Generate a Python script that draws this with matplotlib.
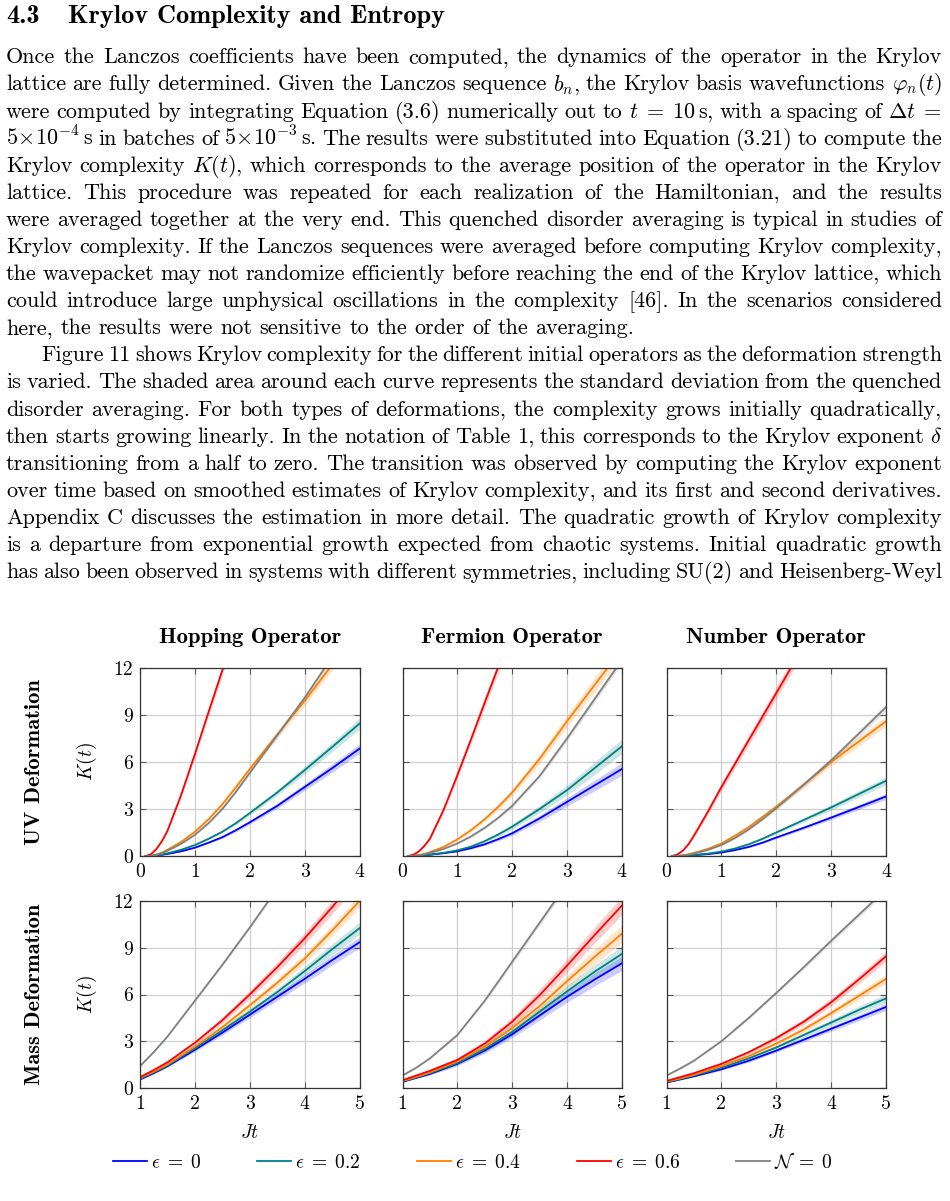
import matplotlib
matplotlib.use('Agg')
import matplotlib.pyplot as plt
from matplotlib.lines import Line2D
import numpy as np

plt.rcParams['mathtext.fontset'] = 'cm'
plt.rcParams['font.family'] = 'cmr10'
plt.rcParams['axes.formatter.use_mathtext'] = True

W, H = 950, 1201

# ---- page text ----
HEAD_NUM = '4.3'
HEAD_TXT = 'Krylov Complexity and Entropy'

PARA1 = [
    'Once the Lanczos coefficients have been computed, the dynamics of the operator in the Krylov',
    r'lattice are fully determined. Given the Lanczos sequence $b_n$, the Krylov basis wavefunctions $\varphi_n(t)$',
    r'were computed by integrating Equation (3.6) numerically out to $t\;=\;10\,\mathrm{s}$, with a spacing of $\Delta{t}\;=$',
    r'$5\!\times\!10^{-4}\,\mathrm{s}$ in batches of $5\!\times\!10^{-3}\,\mathrm{s}$. The results were substituted into Equation (3.21) to compute the',
    r'Krylov complexity $K(t)$, which corresponds to the average position of the operator in the Krylov',
    'lattice. This procedure was repeated for each realization of the Hamiltonian, and the results',
    'were averaged together at the very end. This quenched disorder averaging is typical in studies of',
    'Krylov complexity. If the Lanczos sequences were averaged before computing Krylov complexity,',
    'the wavepacket may not randomize efficiently before reaching the end of the Krylov lattice, which',
    'could introduce large unphysical oscillations in the complexity [46]. In the scenarios considered',
    'here, the results were not sensitive to the order of the averaging.',
]
PARA2 = [
    'Figure 11 shows Krylov complexity for the different initial operators as the deformation strength',
    'is varied. The shaded area around each curve represents the standard deviation from the quenched',
    'disorder averaging. For both types of deformations, the complexity grows initially quadratically,',
    r'then starts growing linearly. In the notation of Table 1, this corresponds to the Krylov exponent $\delta$',
    'transitioning from a half to zero. The transition was observed by computing the Krylov exponent',
    'over time based on smoothed estimates of Krylov complexity, and its first and second derivatives.',
    'Appendix C discusses the estimation in more detail. The quadratic growth of Krylov complexity',
    'is a departure from exponential growth expected from chaotic systems. Initial quadratic growth',
    'has also been observed in systems with different symmetries, including SU(2) and Heisenberg-Weyl',
]

# ---- chart data ----
COL_TITLES = ['Hopping Operator', 'Fermion Operator', 'Number Operator']
ROW_TITLES = ['UV Deformation', 'Mass Deformation']
LABELS = [r'$\epsilon\;=\;0$', r'$\epsilon\;=\;0.2$', r'$\epsilon\;=\;0.4$',
          r'$\epsilon\;=\;0.6$', r'$\mathcal{N}\;=\;0$']
COLORS = ['#0000ff', '#008080', '#ff8000', '#ff0000', '#808080']

T_UV = [0.1, 0.2, 0.3, 0.4, 0.5, 0.75, 1.0, 1.25, 1.5, 1.75, 2.0, 2.5, 3.0, 3.5, 4.0]
T_MASS = [1.0, 1.25, 1.5, 2.0, 2.5, 3.0, 3.5, 4.0, 4.5, 5.0]

# order of series in each panel: eps=0, 0.2, 0.4, 0.6, N=0
hop_uv_k = [
    [0, 0.01, 0.04, 0.08, 0.13, 0.3, 0.53, 0.85, 1.2, 1.65, 2.15, 3.2, 4.4, 5.6, 6.85],
    [0, 0.01, 0.05, 0.1, 0.17, 0.4, 0.7, 1.1, 1.55, 2.1, 2.74, 4.05, 5.48, 6.95, 8.45],
    [0, 0.03, 0.1, 0.22, 0.4, 0.9, 1.55, 2.35, 3.3, 4.4, 5.55, 7.75, 9.9, 12.2, 14.5],
    [0, 0.12, 0.45, 0.95, 1.6, 3.9, 6.5, 9.2, 11.85, 14.4, 17.0, 22.0, 27.0, 32.0, 37.0],
    [0, 0.02, 0.08, 0.18, 0.33, 0.78, 1.35, 2.1, 3.0, 4.1, 5.3, 7.7, 10.1, 12.7, 15.3],
]
hop_uv_sd = [
    [0, 0, 0, 0.01, 0.01, 0.02, 0.03, 0.05, 0.07, 0.09, 0.11, 0.16, 0.21, 0.26, 0.3],
    [0, 0, 0, 0.01, 0.01, 0.02, 0.04, 0.06, 0.08, 0.1, 0.13, 0.18, 0.24, 0.3, 0.35],
    [0, 0, 0.01, 0.01, 0.02, 0.04, 0.07, 0.1, 0.13, 0.16, 0.19, 0.24, 0.3, 0.35, 0.4],
    [0, 0.01, 0.03, 0.06, 0.08, 0.15, 0.2, 0.25, 0.3, 0.35, 0.4, 0.45, 0.5, 0.55, 0.6],
    [0, 0, 0, 0.01, 0.01, 0.02, 0.03, 0.04, 0.05, 0.06, 0.07, 0.09, 0.1, 0.12, 0.14],
]
ferm_uv_k = [
    [0, 0, 0.02, 0.05, 0.08, 0.18, 0.3, 0.5, 0.75, 1.08, 1.45, 2.4, 3.45, 4.5, 5.55],
    [0, 0, 0.02, 0.05, 0.09, 0.2, 0.36, 0.6, 0.95, 1.38, 1.87, 3.0, 4.2, 5.6, 7.0],
    [0, 0.02, 0.06, 0.14, 0.25, 0.58, 1.06, 1.65, 2.35, 3.15, 4.05, 6.2, 8.6, 10.9, 13.2],
    [0, 0.08, 0.3, 0.65, 1.1, 2.95, 5.15, 7.45, 9.8, 12.1, 14.5, 19.0, 24.0, 29.0, 34.0],
    [0, 0.01, 0.05, 0.11, 0.2, 0.45, 0.8, 1.25, 1.8, 2.45, 3.2, 5.1, 7.5, 10.0, 12.5],
]
ferm_uv_sd = [
    [0, 0, 0, 0.01, 0.01, 0.02, 0.03, 0.05, 0.07, 0.1, 0.13, 0.2, 0.27, 0.34, 0.4],
    [0, 0, 0, 0.01, 0.01, 0.02, 0.04, 0.06, 0.09, 0.12, 0.16, 0.24, 0.32, 0.4, 0.46],
    [0, 0, 0.01, 0.01, 0.02, 0.04, 0.07, 0.1, 0.14, 0.18, 0.22, 0.3, 0.38, 0.45, 0.5],
    [0, 0.01, 0.03, 0.06, 0.08, 0.15, 0.2, 0.25, 0.3, 0.35, 0.4, 0.45, 0.5, 0.55, 0.6],
    [0, 0, 0, 0.01, 0.01, 0.02, 0.03, 0.05, 0.07, 0.09, 0.11, 0.14, 0.17, 0.2, 0.23],
]
num_uv_k = [
    [0, 0, 0.01, 0.03, 0.05, 0.12, 0.22, 0.38, 0.58, 0.85, 1.18, 1.8, 2.45, 3.12, 3.8],
    [0, 0, 0.02, 0.04, 0.06, 0.15, 0.28, 0.48, 0.75, 1.1, 1.5, 2.3, 3.1, 3.95, 4.8],
    [0, 0.01, 0.05, 0.11, 0.2, 0.45, 0.8, 1.3, 1.85, 2.5, 3.15, 4.55, 6.0, 7.3, 8.6],
    [0, 0.1, 0.35, 0.75, 1.3, 2.8, 4.4, 5.9, 7.4, 8.9, 10.4, 13.4, 16.4, 19.4, 22.4],
    [0, 0.01, 0.04, 0.08, 0.15, 0.38, 0.7, 1.15, 1.7, 2.35, 3.05, 4.55, 6.1, 7.8, 9.5],
]
num_uv_sd = [
    [0, 0, 0, 0, 0.01, 0.01, 0.02, 0.03, 0.04, 0.05, 0.07, 0.1, 0.13, 0.16, 0.19],
    [0, 0, 0, 0, 0.01, 0.01, 0.02, 0.03, 0.05, 0.07, 0.09, 0.13, 0.17, 0.21, 0.25],
    [0, 0, 0, 0.01, 0.01, 0.02, 0.04, 0.06, 0.08, 0.11, 0.14, 0.2, 0.25, 0.3, 0.35],
    [0, 0.01, 0.04, 0.07, 0.1, 0.18, 0.24, 0.28, 0.31, 0.34, 0.36, 0.4, 0.44, 0.48, 0.52],
    [0, 0, 0, 0.01, 0.01, 0.02, 0.03, 0.05, 0.07, 0.09, 0.11, 0.14, 0.17, 0.2, 0.22],
]
hop_mass_k = [
    [0.55, 0.95, 1.4, 2.45, 3.55, 4.7, 5.85, 7.0, 8.2, 9.35],
    [0.6, 1.0, 1.45, 2.55, 3.7, 4.9, 6.15, 7.5, 8.9, 10.25],
    [0.65, 1.05, 1.5, 2.65, 3.9, 5.3, 6.75, 8.3, 10.1, 12.0],
    [0.7, 1.15, 1.65, 2.9, 4.35, 6.0, 7.75, 9.6, 11.6, 13.7],
    [1.4, 2.3, 3.3, 5.6, 7.9, 10.3, 12.8, 15.3, 17.8, 20.3],
]
hop_mass_sd = [
    [0.03, 0.05, 0.07, 0.11, 0.15, 0.19, 0.23, 0.27, 0.31, 0.35],
    [0.03, 0.05, 0.07, 0.11, 0.16, 0.2, 0.25, 0.3, 0.35, 0.4],
    [0.03, 0.05, 0.08, 0.12, 0.17, 0.22, 0.27, 0.32, 0.37, 0.42],
    [0.04, 0.06, 0.09, 0.14, 0.2, 0.26, 0.32, 0.38, 0.44, 0.5],
    [0.02, 0.03, 0.04, 0.06, 0.08, 0.1, 0.12, 0.14, 0.16, 0.18],
]
ferm_mass_k = [
    [0.4, 0.65, 0.9, 1.55, 2.4, 3.45, 4.65, 5.85, 6.95, 8.0],
    [0.42, 0.68, 0.95, 1.6, 2.5, 3.6, 4.9, 6.2, 7.45, 8.6],
    [0.45, 0.72, 1.0, 1.7, 2.65, 3.85, 5.25, 6.85, 8.4, 9.9],
    [0.5, 0.8, 1.1, 1.8, 2.85, 4.25, 5.95, 7.85, 9.8, 11.7],
    [0.8, 1.3, 1.9, 3.4, 5.6, 8.1, 10.6, 13.1, 15.6, 18.1],
]
ferm_mass_sd = [
    [0.03, 0.05, 0.07, 0.12, 0.17, 0.23, 0.29, 0.35, 0.41, 0.46],
    [0.03, 0.05, 0.07, 0.12, 0.18, 0.24, 0.3, 0.37, 0.44, 0.5],
    [0.03, 0.05, 0.08, 0.13, 0.19, 0.26, 0.33, 0.4, 0.48, 0.55],
    [0.04, 0.06, 0.09, 0.14, 0.2, 0.27, 0.35, 0.43, 0.51, 0.58],
    [0.02, 0.03, 0.05, 0.08, 0.11, 0.14, 0.17, 0.2, 0.23, 0.26],
]
num_mass_k = [
    [0.35, 0.55, 0.75, 1.2, 1.75, 2.4, 3.1, 3.8, 4.5, 5.2],
    [0.38, 0.58, 0.8, 1.3, 1.9, 2.6, 3.4, 4.2, 5.0, 5.75],
    [0.4, 0.62, 0.85, 1.4, 2.05, 2.85, 3.75, 4.8, 5.9, 7.0],
    [0.45, 0.7, 0.95, 1.55, 2.3, 3.2, 4.25, 5.5, 6.95, 8.45],
    [0.8, 1.25, 1.75, 3.0, 4.5, 6.1, 7.75, 9.45, 11.1, 12.75],
]
num_mass_sd = [
    [0.02, 0.03, 0.04, 0.06, 0.08, 0.1, 0.13, 0.16, 0.19, 0.22],
    [0.02, 0.03, 0.05, 0.07, 0.1, 0.13, 0.16, 0.2, 0.24, 0.28],
    [0.02, 0.03, 0.05, 0.08, 0.11, 0.14, 0.18, 0.22, 0.26, 0.3],
    [0.02, 0.04, 0.06, 0.09, 0.12, 0.16, 0.2, 0.24, 0.28, 0.32],
    [0.02, 0.03, 0.04, 0.06, 0.08, 0.1, 0.12, 0.14, 0.16, 0.18],
]

PANELS = [
    [(hop_uv_k, hop_uv_sd), (ferm_uv_k, ferm_uv_sd), (num_uv_k, num_uv_sd)],
    [(hop_mass_k, hop_mass_sd), (ferm_mass_k, ferm_mass_sd), (num_mass_k, num_mass_sd)],
]
ROW_T = [T_UV, T_MASS]
ROW_XLIM = [(0, 4), (1, 5)]
ROW_XTICKS = [[0, 1, 2, 3, 4], [1, 2, 3, 4, 5]]
YTICKS = [0, 3, 6, 9, 12]

fig = plt.figure(figsize=(W / 100, H / 100), dpi=100)
rend = fig.canvas.get_renderer()


def fx(x):
    return x / W


def fy(y):
    return 1 - y / H


def width_of(s, size, family):
    t = fig.text(0, 0, s, fontsize=size, family=family)
    w = t.get_window_extent(rend).width
    t.remove()
    return w


def fit(s, family, target):
    return 10 * target / width_of(s, 10, family)


# heading
hs = fit(HEAD_TXT, 'cmb10', 376)
fig.text(fx(6), fy(23), HEAD_NUM, fontsize=hs, family='cmb10', va='baseline')
fig.text(fx(68), fy(23), HEAD_TXT, fontsize=hs, family='cmb10', va='baseline')

# body font size: line 10 of paragraph 1 fills the text width with ~1/3 em spaces
X0, X1 = 6, 942
EM = 100 / 72


def natural_size(s, width, sp):
    words = s.split()
    w10 = sum(width_of(w, 10, 'cmr10') for w in words)
    return width / (w10 / 10 + (len(words) - 1) * sp * EM)


bs = natural_size(PARA1[9], X1 - X0, 0.333)
for s in PARA1[:-1] + PARA2[1:]:
    bs = min(bs, natural_size(s, X1 - X0, 0.22))
space = 0.333 * bs * EM


def draw_line(s, y, x0, justify):
    words = s.split()
    ws = [width_of(w, bs, 'cmr10') for w in words]
    gap = (X1 - x0 - sum(ws)) / (len(words) - 1) if justify else space
    x = x0
    for w, wd in zip(words, ws):
        fig.text(fx(x), fy(y), w, fontsize=bs, va='baseline', ha='left')
        x += wd + gap


lines = [(s, i == len(PARA1) - 1, 0) for i, s in enumerate(PARA1)]
lines += [(s, False, 1 if i == 0 else 0) for i, s in enumerate(PARA2)]
for i, (s, last, indent) in enumerate(lines):
    draw_line(s, 63.3 + 27.1 * i, X0 + 35.5 * indent, not last)

# ---- figure ----
COLS = [(140, 359.5), (402.5, 621.8), (666.5, 886)]
ROWS = [(668, 856), (901, 1088)]

ts = fit(COL_TITLES[0], 'cmb10', 182)
rs = fit(ROW_TITLES[1], 'cmb10', 181)

for ri, (top, bot) in enumerate(ROWS):
    for ci, (left, right) in enumerate(COLS):
        ax = fig.add_axes([fx(left), fy(bot), (right - left) / W, (bot - top) / H])
        ks, sds = PANELS[ri][ci]
        t = np.array(ROW_T[ri])
        for k, sd, c in zip(ks, sds, COLORS):
            k = np.array(k)
            sd = np.array(sd)
            ax.fill_between(t, k - sd, k + sd, color=c, alpha=0.2, lw=0)
        for k, c in zip(ks, COLORS):
            ax.plot(t, k, color=c, lw=1.3)
        ax.set_xlim(*ROW_XLIM[ri])
        ax.set_ylim(0, 12)
        ax.set_xticks(ROW_XTICKS[ri])
        ax.set_xticklabels([str(v) for v in ROW_XTICKS[ri]])
        ax.set_yticks(YTICKS)
        if ci == 0:
            ax.set_yticklabels([str(v) for v in YTICKS])
        else:
            ax.set_yticklabels([])
        ax.grid(True, color='#cfcfcf', lw=0.9)
        ax.set_axisbelow(True)
        ax.tick_params(direction='in', length=4, width=0.8, color='#555555',
                       top=True, right=True, labelsize=14.2, pad=5)
        for sp in ax.spines.values():
            sp.set_color('#333333')
            sp.set_linewidth(0.9)
        if ri == 1:
            ax.set_xlabel(r'$Jt$', fontsize=14, labelpad=8)
        if ri == 0:
            fig.text(fx((left + right) / 2), fy(643), COL_TITLES[ci], fontsize=ts,
                     family='cmb10', ha='center', va='baseline')
    fig.text(fx(35), fy((top + bot) / 2), ROW_TITLES[ri], fontsize=rs, family='cmb10',
             rotation=90, ha='center', va='center')
    fig.text(fx(87), fy((top + bot) / 2), r'$K(t)$', fontsize=14, rotation=90,
             ha='center', va='center')

handles = [Line2D([], [], color=c, lw=1.3) for c in COLORS]
fig.legend(handles, LABELS, loc='center', bbox_to_anchor=(fx(473), fy(1162)), ncol=5,
           frameon=False, fontsize=14, handlelength=1.75, handletextpad=0.2,
           columnspacing=2.9)

fig.savefig('out.png', dpi=100)
